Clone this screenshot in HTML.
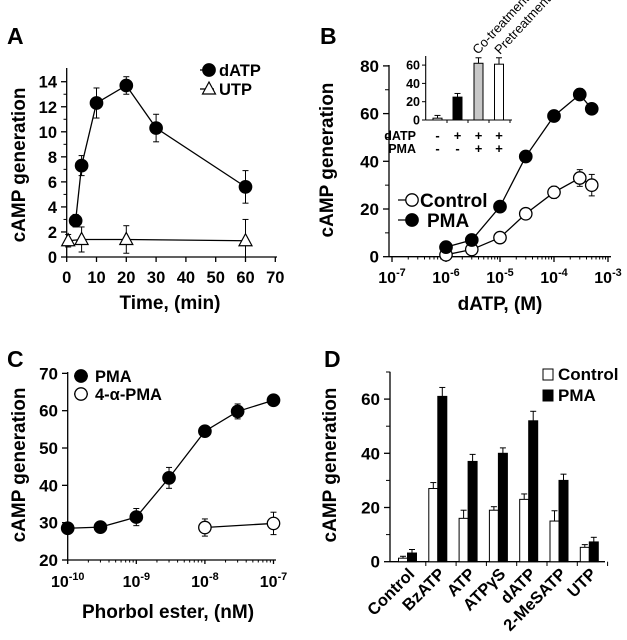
<!DOCTYPE html>
<html><head><meta charset="utf-8"><style>
html,body{margin:0;padding:0;background:#fff;width:627px;height:640px;overflow:hidden}
svg{display:block;font-family:"Liberation Sans",Arial,sans-serif;font-weight:bold}
</style></head><body>
<svg id="fig" width="627" height="640" viewBox="0 0 627 640" xmlns="http://www.w3.org/2000/svg"></svg>
<script>
// Panel A data
const aDatpTimes=[3,5,10,20,30,60];
const aDatpVals=[2.9,7.3,12.3,13.7,10.3,5.6];
const aDatpErr=[0.5,0.8,1.2,0.7,1.1,1.3];
const aUtpTimes=[0.5,5,20,60];
const aUtpVals=[1.3,1.4,1.4,1.3];
const aUtpErr=[0.5,1.0,1.1,1.7];
const aXTicks=[0,10,20,30,40,50,60,70];
const aYTicks=[0,2,4,6,8,10,12,14];
// Panel B data
const bConc=[1e-6,3e-6,1e-5,3e-5,1e-4,3e-4,5e-4];
const bControl=[0.8,3,8,18,27,33,30];
const bControlErr=[0.5,0.8,1,1,2.5,3.5,4.5];
const bPma=[4,7,21,42,59,68,62];
const bPmaErr=[0.5,0.8,1,1,1.2,2.5,1];
const bXExp=[-7,-6,-5,-4,-3];
const bYTicks=[0,20,40,60,80];
const insetVals=[2,25,62,61];
const insetErr=[3,4,6,7];
const insetYTicks=[0,20,40,60];
const insetDatp=['-','+','+','+'];
const insetPma=['-','-','+','+'];
// Panel C data
const cConc=[1e-10,3e-10,1e-9,3e-9,1e-8,3e-8,1e-7];
const cPma=[28.5,28.8,31.5,42,54.5,59.8,62.8];
const cPmaErr=[1.5,1.5,2.3,2.8,1,2,0.8];
const cAlphaConc=[1e-8,1e-7];
const cAlpha=[28.7,29.8];
const cAlphaErr=[2.3,3];
const cXExp=[-10,-9,-8,-7];
const cYTicks=[20,30,40,50,60,70];
// Panel D data
const dCats=['Control','BzATP','ATP','ATPγS','dATP','2-MeSATP','UTP'];
const dControl=[1.3,27,16,19,23,15,5.3];
const dControlErr=[0.7,2.2,3,1.3,2,3.8,1];
const dPma=[3.2,61,37,40,52,30,7.3];
const dPmaErr=[1.3,3.3,2.6,2,3.5,2.3,1.7];
const dYTicks=[0,20,40,60];

const NS='http://www.w3.org/2000/svg';
const svg=document.getElementById('fig');
function mk(tag,attrs,name,parent){
  const el=document.createElementNS(NS,tag);
  for(const k in attrs) el.setAttribute(k,attrs[k]);
  
  
  (parent||svg).appendChild(el);
  return el;
}
function line(x1,y1,x2,y2,name,w){return mk('line',{x1,y1,x2,y2,stroke:'#000','stroke-width':w||1.3},name);}
function text(x,y,s,size,anchor,name,extra){const t=mk('text',Object.assign({x,y,'font-size':size,'text-anchor':anchor||'middle',fill:'#000'},extra||{}),name);t.textContent=s;return t;}
function pow10(x,y,e,size,name){
  const t=mk('text',{x,y,'font-size':size,'text-anchor':'middle',fill:'#000'},name);
  const a=document.createElementNS(NS,'tspan');a.textContent='10';t.appendChild(a);
  const b=document.createElementNS(NS,'tspan');b.setAttribute('dy',-7);b.setAttribute('font-size',size*0.68);b.textContent=String(e);t.appendChild(b);
}
function circle(x,y,filled,name,r){return mk('circle',{cx:x,cy:y,r:r||6.2,fill:filled?'#000':'#fff',stroke:'#000','stroke-width':1.3},name);}
function err(x,y1,y2,name){line(x,y1,x,y2,name,1);line(x-3,y2,x+3,y2,name+'-cap',1);}
function poly(pts,name){mk('polyline',{points:pts.map(p=>p.join(',')).join(' '),fill:'none',stroke:'#000','stroke-width':1.3},name);}
function ylabel(x,y,s,name){text(x,y,s,19,'middle',name,{transform:`rotate(-90 ${x} ${y})`});}

/* ---------- Panel A ---------- */
const xA=t=>66.7+t*2.98, yA=v=>257-v*12.52;
text(7,44,'A',23,'start','panel-a-label');
line(66.7,257,66.7,68,'a-y-axis');line(66.7,257,277,257,'a-x-axis');
aYTicks.forEach(v=>{line(61,yA(v),66.7,yA(v),'a-y-tick');text(57,yA(v)+6,String(v),16.5,'end','a-y-tick-label');});
aXTicks.forEach(v=>{line(xA(v),257,xA(v),262,'a-x-tick');text(xA(v),283,String(v),16.5,'middle','a-x-tick-label');});
[1,3,5,7,9,11,13].forEach(v=>line(63.5,yA(v),66.7,yA(v),'a-y-minor-tick',1));
ylabel(25,165,'cAMP generation','a-y-axis-title');
text(170,309,'Time, (min)',19,'middle','a-x-axis-title');
poly(aUtpTimes.map((t,i)=>[xA(t),yA(aUtpVals[i])]),'a-utp-line');
aUtpTimes.forEach((t,i)=>{err(xA(t),yA(aUtpVals[i]),yA(aUtpVals[i]+aUtpErr[i]),'a-utp-error');err(xA(t),yA(aUtpVals[i]),yA(Math.max(0,aUtpVals[i]-aUtpErr[i])),'a-utp-error');});
aUtpTimes.forEach((t,i)=>{const x=xA(t),y=yA(aUtpVals[i]);mk('polygon',{points:`${x},${y-7} ${x-6.5},${y+5} ${x+6.5},${y+5}`,fill:'#fff',stroke:'#000','stroke-width':1.2},'a-utp-point');});
poly(aDatpTimes.map((t,i)=>[xA(t),yA(aDatpVals[i])]),'a-datp-line');
aDatpTimes.forEach((t,i)=>{err(xA(t),yA(aDatpVals[i]),yA(aDatpVals[i]+aDatpErr[i]),'a-datp-error');err(xA(t),yA(aDatpVals[i]),yA(aDatpVals[i]-aDatpErr[i]),'a-datp-error');circle(xA(t),yA(aDatpVals[i]),true,'a-datp-point');});
line(200,70,214,70,'legend-a-datp-line');circle(209,70,true,'legend-a-datp-marker');text(219,76,'dATP',16.5,'start','legend-a-datp-label');
line(200,89,214,89,'legend-a-utp-line');mk('polygon',{points:'209,82 202.5,94 215.5,94',fill:'#fff',stroke:'#000','stroke-width':1.2},'legend-a-utp-marker');text(219,95,'UTP',16.5,'start','legend-a-utp-label');

/* ---------- Panel B ---------- */
const xB=c=>392+(Math.log10(c)+7)*54, yB=v=>256.7-v*2.385;
text(320,44,'B',23,'start','panel-b-label');
line(389,256.7,389,65,'b-y-axis');line(389,256.7,611,256.7,'b-x-axis');
bYTicks.forEach(v=>{line(383,yB(v),389,yB(v),'b-y-tick');text(379,yB(v)+6,String(v),17,'end','b-y-tick-label');});
[10,30,50,70].forEach(v=>line(385,yB(v),389,yB(v),'b-y-minor-tick',1));
bXExp.forEach(e=>{line(xB(Math.pow(10,e)),256.7,xB(Math.pow(10,e)),262,'b-x-tick');pow10(xB(Math.pow(10,e)),283,e,16,'b-x-tick-label');});
for(let e=-7;e<-3;e++)for(let m=2;m<10;m++)line(xB(m*Math.pow(10,e)),256.7,xB(m*Math.pow(10,e)),259.5,'b-x-minor-tick',1);
ylabel(333,160,'cAMP generation','b-y-axis-title');
text(500,310,'dATP, (M)',19,'middle','b-x-axis-title');
poly(bConc.map((c,i)=>[xB(c),yB(bControl[i])]),'b-control-line');
poly(bConc.map((c,i)=>[xB(c),yB(bPma[i])]),'b-pma-line');
bConc.forEach((c,i)=>{err(xB(c),yB(bControl[i]),yB(bControl[i]+bControlErr[i]),'b-control-error');err(xB(c),yB(bControl[i]),yB(bControl[i]-bControlErr[i]),'b-control-error');circle(xB(c),yB(bControl[i]),false,'b-control-point');});
bConc.forEach((c,i)=>{err(xB(c),yB(bPma[i]),yB(bPma[i]+bPmaErr[i]),'b-pma-error');circle(xB(c),yB(bPma[i]),true,'b-pma-point');});
line(398,200,418,200,'legend-b-control-line');circle(412,200,false,'legend-b-control-marker');text(420,207,'Control',19,'start','legend-b-control-label');
line(398,220,418,220,'legend-b-pma-line');circle(412,220,true,'legend-b-pma-marker');text(427,227,'PMA',19,'start','legend-b-pma-label');
// inset
const yI=v=>120-v*0.915, insetX=[437.5,457.5,478.5,499];
line(425.7,120,425.7,56,'inset-y-axis',1.1);line(425.7,120,512,120,'inset-x-axis',1.1);
insetYTicks.forEach(v=>{line(422,yI(v),425.7,yI(v),'inset-y-tick',1);text(420,yI(v)+4.5,String(v),12.5,'end','inset-y-tick-label');});
[447,468,489,510].forEach(x=>line(x,120,x,123,'inset-x-tick',1));
const insetFill=['#fff','#000','#c8c8c8','#fff'];
insetVals.forEach((v,i)=>{err(insetX[i],yI(v),yI(v+insetErr[i]),'inset-error');mk('rect',{x:insetX[i]-4.5,y:yI(v),width:9,height:120-yI(v),fill:insetFill[i],stroke:'#000','stroke-width':1},'inset-bar');});
text(416,140,'dATP',12.5,'end','inset-row-datp');text(416,153,'PMA',12.5,'end','inset-row-pma');
insetDatp.forEach((s,i)=>text(insetX[i],140,s,13,'middle','inset-datp-sign'));
insetPma.forEach((s,i)=>text(insetX[i],153,s,13,'middle','inset-pma-sign'));
text(478,55,'Co-treatment',13,'start','inset-label-cotreatment',{'font-weight':'normal',transform:'rotate(-47 478 55)'});
text(500,55,'Pretreatment',13,'start','inset-label-pretreatment',{'font-weight':'normal',transform:'rotate(-47 500 55)'});

/* ---------- Panel C ---------- */
const xC=c=>67.7+(Math.log10(c)+10)*68.6, yC=v=>560-(v-20)*3.733;
text(7,367,'C',23,'start','panel-c-label');
line(67.7,560,67.7,372,'c-y-axis');line(67.7,560,276,560,'c-x-axis');
cYTicks.forEach(v=>{line(62,yC(v),67.7,yC(v),'c-y-tick');text(58,yC(v)+6,String(v),17,'end','c-y-tick-label');});
cXExp.forEach(e=>{line(xC(Math.pow(10,e)),560,xC(Math.pow(10,e)),564,'c-x-tick');pow10(xC(Math.pow(10,e)),587,e,16,'c-x-tick-label');});
for(let e=-10;e<-7;e++)for(let m=2;m<10;m++)line(xC(m*Math.pow(10,e)),560,xC(m*Math.pow(10,e)),562.5,'c-x-minor-tick',1);
ylabel(25,465,'cAMP generation','c-y-axis-title');
text(168,618,'Phorbol ester, (nM)',19,'middle','c-x-axis-title');
poly(cConc.map((c,i)=>[xC(c),yC(cPma[i])]),'c-pma-line');
poly(cAlphaConc.map((c,i)=>[xC(c),yC(cAlpha[i])]),'c-alpha-pma-line');
cConc.forEach((c,i)=>{err(xC(c),yC(cPma[i]),yC(cPma[i]+cPmaErr[i]),'c-pma-error');err(xC(c),yC(cPma[i]),yC(cPma[i]-cPmaErr[i]),'c-pma-error');circle(xC(c),yC(cPma[i]),true,'c-pma-point');});
cAlphaConc.forEach((c,i)=>{err(xC(c),yC(cAlpha[i]),yC(cAlpha[i]+cAlphaErr[i]),'c-alpha-error');err(xC(c),yC(cAlpha[i]),yC(cAlpha[i]-cAlphaErr[i]),'c-alpha-error');circle(xC(c),yC(cAlpha[i]),false,'c-alpha-pma-point');});
line(74,376,88,376,'legend-c-pma-line');circle(81,376,true,'legend-c-pma-marker');text(95,382,'PMA',16.5,'start','legend-c-pma-label');
line(74,394,88,394,'legend-c-alpha-line');circle(81,394,false,'legend-c-alpha-marker');text(95,400,'4-α-PMA',16.5,'start','legend-c-alpha-label');

/* ---------- Panel D ---------- */
const yD=v=>561.7-v*2.71, gx=i=>398.5+i*30.3;
text(324,367,'D',23,'start','panel-d-label');
line(390,561.7,390,371.7,'d-y-axis');line(390,561.7,605,561.7,'d-x-axis');
dYTicks.forEach(v=>{line(384,yD(v),390,yD(v),'d-y-tick');text(380,yD(v)+6,String(v),17,'end','d-y-tick-label');});
[10,30,50,70].forEach(v=>line(386,yD(v),390,yD(v),'d-y-minor-tick',1));
for(let i=1;i<=7;i++)line(gx(i)-3,561.7,gx(i)-3,566,'d-x-tick',1);
ylabel(336,465,'cAMP generation','d-y-axis-title');
dCats.forEach((c,i)=>{
  err(gx(i)+4.5,yD(dControl[i]),yD(dControl[i]+dControlErr[i]),'d-control-error');
  err(gx(i)+13.5,yD(dPma[i]),yD(dPma[i]+dPmaErr[i]),'d-pma-error');
  mk('rect',{x:gx(i),y:yD(dControl[i]),width:9,height:561.7-yD(dControl[i]),fill:'#fff',stroke:'#000','stroke-width':1},'d-control-bar');
  mk('rect',{x:gx(i)+9,y:yD(dPma[i]),width:9,height:561.7-yD(dPma[i]),fill:'#000',stroke:'#000','stroke-width':1},'d-pma-bar');
  const ax=gx(i)+17, ay=575;
  text(ax,ay,c,16.5,'end','d-category-label',{transform:`rotate(-45 ${ax} ${ay})`});
});
mk('rect',{x:543,y:369,width:10,height:11,fill:'#fff',stroke:'#000','stroke-width':1},'legend-d-control-swatch');text(558,380,'Control',17,'start','legend-d-control-label');
mk('rect',{x:543,y:390,width:10,height:11,fill:'#000',stroke:'#000','stroke-width':1},'legend-d-pma-swatch');text(558,401,'PMA',17,'start','legend-d-pma-label');
</script>
</body></html>
